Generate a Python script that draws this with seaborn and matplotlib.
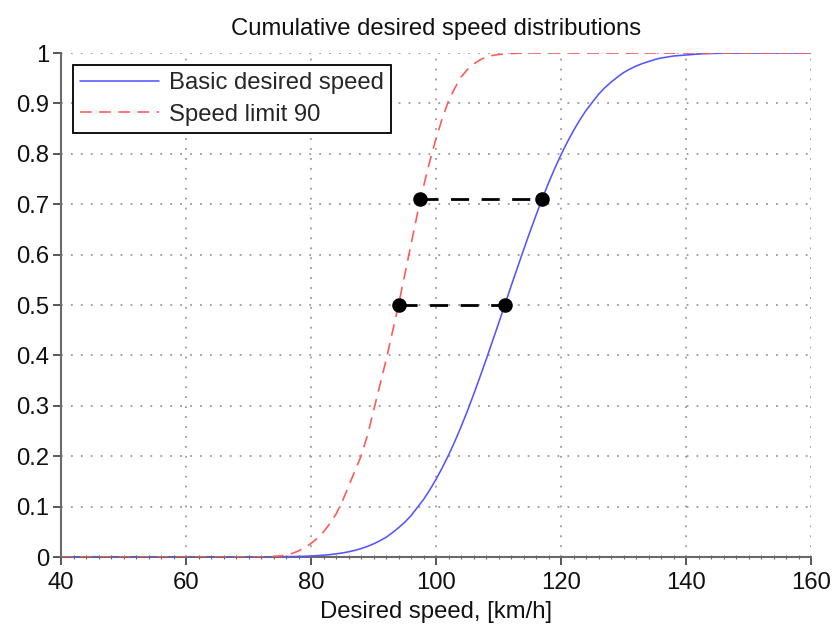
import matplotlib
matplotlib.use("Agg")
import matplotlib.pyplot as plt
import seaborn as sns
import pandas as pd
from matplotlib.ticker import MultipleLocator

# ---- data ----
basic_speed = [40, 60, 70,
               74, 75, 76, 77, 78, 79, 80, 81, 82, 83, 84, 85, 86, 87, 88, 89,
               90, 91, 92, 93, 94, 95, 96, 97, 98, 99, 100, 101, 102, 103, 104,
               105, 106, 107, 108, 109, 110, 111, 112, 113, 114, 115, 116, 117,
               118, 119, 120, 121, 122, 123, 124, 125, 126, 127, 128, 129, 130,
               131, 132, 133, 134, 135, 136, 137, 138, 139, 140, 141, 142, 143,
               144, 145, 146, 148, 150, 160]
basic_cdf = [0, 0, 0,
             0.0003, 0.0004, 0.0006, 0.0008, 0.0011, 0.0015, 0.002, 0.0027, 0.0036,
             0.0047, 0.0062, 0.0080, 0.0103, 0.0131, 0.0166, 0.0209,
             0.026, 0.032, 0.039, 0.048, 0.058, 0.069, 0.082, 0.098, 0.114, 0.133,
             0.154, 0.177, 0.202, 0.229, 0.258,
             0.289, 0.322, 0.356, 0.391, 0.427, 0.463, 0.500, 0.537, 0.573, 0.609,
             0.644, 0.678, 0.711,
             0.742, 0.771, 0.798, 0.823, 0.846, 0.867, 0.886, 0.902, 0.918, 0.931,
             0.942, 0.952, 0.961,
             0.968, 0.974, 0.979, 0.983, 0.987, 0.990, 0.992, 0.994, 0.995, 0.996,
             0.997, 0.998, 0.9986,
             0.999, 0.9994, 0.9996, 0.9999, 1.0, 1.0]

limit_speed = [40, 60, 70, 72,
               73, 74, 75, 76, 77, 78, 79, 80, 81, 82, 83, 84, 85, 86, 87, 88,
               89, 90, 91, 92, 93, 94, 95, 96, 97, 98, 99, 100, 101, 102, 103,
               104, 105, 106, 107, 108, 109, 110, 111, 112, 113, 114,
               120, 140, 160]
limit_cdf = [0, 0, 0, 0,
             0.0005, 0.001, 0.002, 0.004, 0.007, 0.012, 0.018, 0.027, 0.037, 0.05,
             0.066, 0.085, 0.11, 0.14, 0.17, 0.20,
             0.24, 0.29, 0.34, 0.39, 0.445, 0.50, 0.56, 0.62, 0.68, 0.735, 0.785,
             0.83, 0.87, 0.905, 0.93,
             0.952, 0.967, 0.978, 0.986, 0.992, 0.995, 0.997, 0.998, 0.999, 0.9995,
             1.0,
             1.0, 1.0, 1.0]

series_names = ["Basic desired speed", "Speed limit 90"]

marker_speeds_50 = [94.0, 111.0]
marker_level_50 = [0.5, 0.5]
marker_speeds_71 = [97.5, 117.0]
marker_level_71 = [0.71, 0.71]

x_ticks = [40, 60, 80, 100, 120, 140, 160]
y_ticks = [0, 0.1, 0.2, 0.3, 0.4, 0.5, 0.6, 0.7, 0.8, 0.9, 1]
y_tick_labels = ["0", "0.1", "0.2", "0.3", "0.4", "0.5", "0.6", "0.7", "0.8", "0.9", "1"]

title = "Cumulative desired speed distributions"
xlabel = "Desired speed, [km/h]"

# ---- styling ----
sns.set_theme(style="white")
plt.rcParams["font.family"] = ["Liberation Sans", "DejaVu Sans"]
FS = 17.2

fig = plt.figure(figsize=(8.34, 6.26), dpi=100)
ax = fig.add_axes([61 / 834, 1 - 557 / 626, 750 / 834, 504 / 626])

df_basic = pd.DataFrame({"speed": basic_speed, "cdf": basic_cdf})
df_lim = pd.DataFrame({"speed": limit_speed, "cdf": limit_cdf})

sns.lineplot(data=df_basic, x="speed", y="cdf", ax=ax, color="#5555ff",
             linewidth=1.15, label=series_names[0], zorder=3)
sns.lineplot(data=df_lim, x="speed", y="cdf", ax=ax, color="#ff5a5a",
             linewidth=1.2, linestyle=(0, (7, 4.5)), label=series_names[1], zorder=3)

# connectors and markers
for xs, ys in [(marker_speeds_50, marker_level_50), (marker_speeds_71, marker_level_71)]:
    ax.plot(xs, ys, color="black", linewidth=2.0, linestyle=(0, (6.5, 4.5)), zorder=4)
    sns.scatterplot(x=xs, y=ys, ax=ax, color="black", s=110, edgecolor="black",
                    linewidth=0, zorder=5, legend=False)

ax.set_xlim(40, 160)
ax.set_ylim(0, 1)
ax.set_xticks(x_ticks)
ax.set_yticks(y_ticks)
ax.set_yticklabels(y_tick_labels)
ax.xaxis.set_minor_locator(MultipleLocator(2))

ax.grid(True, which="major", color="#9a9a9a", linestyle=(0, (1, 4.5)), linewidth=1.3)
for side in ["top", "right"]:
    ax.spines[side].set_visible(False)
for side in ["left", "bottom"]:
    ax.spines[side].set_color("#6a6a6a")
    ax.spines[side].set_linewidth(1.5)

ax.tick_params(axis="x", which="major", direction="out", length=6, width=1.3,
               color="#4a4a4a", labelsize=FS, pad=4.5, bottom=True)
ax.tick_params(axis="x", which="minor", direction="inout", length=3, width=0.8,
               color="#6a6a6a", bottom=True)
ax.tick_params(axis="y", which="major", direction="out", length=5.5, width=1.3,
               color="#4a4a4a", labelsize=FS, pad=3, left=True)
for lbl in ax.get_xticklabels() + ax.get_yticklabels():
    lbl.set_color("#111111")

ax.set_title(title, fontsize=FS, pad=13, color="#111111")
ax.set_xlabel(xlabel, fontsize=FS, labelpad=5, color="#111111")
ax.set_ylabel("")

leg = ax.legend(loc="upper left", bbox_to_anchor=(12 / 750, 1 - 12 / 504),
                borderaxespad=0, fontsize=FS, frameon=True, fancybox=False,
                framealpha=1, edgecolor="black", handlelength=3.3,
                handletextpad=0.4, labelspacing=0.4, borderpad=0.3)
leg.get_frame().set_linewidth(1.3)

fig.savefig("out.png", dpi=100)
